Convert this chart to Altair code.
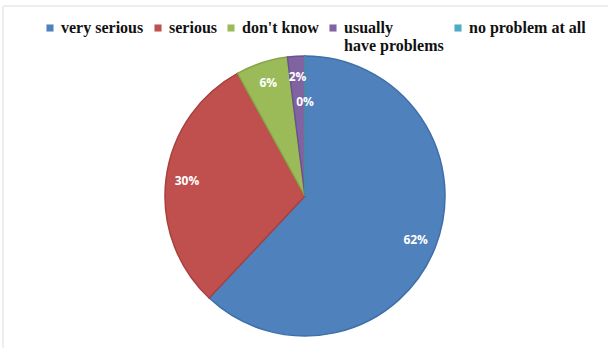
import altair as alt
import pandas as pd

categories = ["very serious", "serious", "don't know", "usually have problems", "no problem at all"]
values = [62, 30, 6, 2, 0]
colors = ["#4F81BD", "#C0504D", "#9BBB59", "#8064A2", "#4BACC6"]
edge_colors = ["#3F6FA8", "#A8403D", "#86A548", "#6C5290", "#3D98B0"]

df = pd.DataFrame({"category": categories, "value": values, "idx": list(range(len(categories)))})

CX, CY, R = 305, 196, 140

theta = alt.Theta("value:Q", stack=True)
order = alt.Order("idx:Q")

base = alt.Chart(df).encode(theta=theta, order=order)

pie = base.mark_arc(radius=R, strokeWidth=1.5).encode(
    x=alt.value(CX),
    y=alt.value(CY),
    color=alt.Color(
        "category:N",
        scale=alt.Scale(domain=categories, range=colors),
        sort=categories,
        legend=alt.Legend(
            title=None,
            orient="none",
            legendX=42,
            legendY=20,
            direction="horizontal",
            symbolType="square",
            symbolSize=50,
            symbolStrokeWidth=0,
            labelFont="Liberation Serif",
            labelFontSize=16,
            labelFontWeight="bold",
            labelColor="#111111",
            labelLimit=300,
            columnPadding=6,
            labelOffset=3,
            labelBaseline="middle",
            labelExpr="datum.label == 'usually have problems' ? ['usually', 'have problems'] : [datum.label, '']",
        ),
    ),
    stroke=alt.Stroke(
        "category:N",
        scale=alt.Scale(domain=categories, range=edge_colors),
        legend=None,
    ),
)

labels = base.transform_calculate(
    lbl="datum.value > 0 ? datum.value + '%' : ''"
).mark_text(
    radius=119, font="Open Sans", fontWeight="bold", fontSize=12, color="white"
).encode(x=alt.value(CX), y=alt.value(CY), text="lbl:N")

zero_labels = base.transform_calculate(
    lbl="datum.value == 0 ? datum.value + '%' : ''"
).mark_text(
    radius=94, font="Open Sans", fontWeight="bold", fontSize=12, color="white"
).encode(x=alt.value(CX), y=alt.value(CY), text="lbl:N")

frame = alt.Chart(alt.Data(values=[{"a": 1}])).mark_rect(
    fill="transparent", stroke="#dddddd", strokeWidth=1
).encode(x=alt.value(3), y=alt.value(6), x2=alt.value(640), y2=alt.value(380))

chart = alt.layer(frame, pie, labels, zero_labels).properties(
    width=608, height=348, padding=0, autosize="none"
).configure_view(stroke=None)

chart.save("out.html", embed_options={"renderer": "svg", "actions": False})
